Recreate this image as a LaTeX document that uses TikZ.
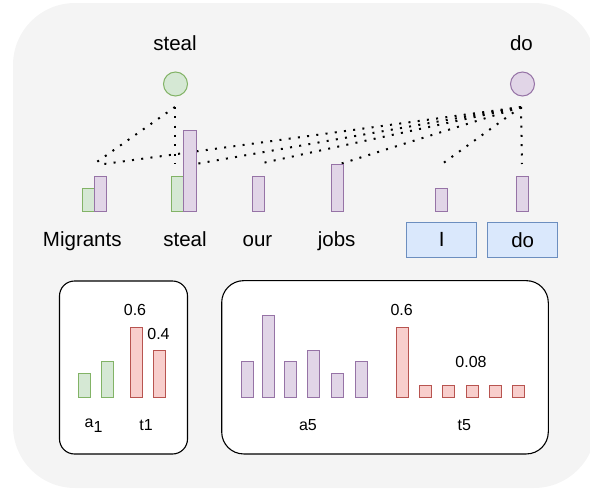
\documentclass[tikz,border=0pt]{standalone}
\usepackage{fontspec}
\setmainfont{Liberation Sans}
\definecolor{bgc}{HTML}{F4F4F4}
\definecolor{gfill}{HTML}{D5E8D4}
\definecolor{gline}{HTML}{82B366}
\definecolor{pfill}{HTML}{E1D5E7}
\definecolor{pline}{HTML}{9673A6}
\definecolor{rfill}{HTML}{F8CECC}
\definecolor{rline}{HTML}{B85450}
\definecolor{bfill}{HTML}{DAE8FC}
\definecolor{bline}{HTML}{6C8EBF}
\begin{document}
\begin{tikzpicture}[x=1pt,y=-1pt,
  lbl/.style={font=\fontsize{20.5}{24}\selectfont, inner sep=0pt, anchor=base},
  small/.style={font=\fontsize{16}{19}\selectfont, inner sep=0pt, anchor=base},
  barbase/.style={line width=1pt, minimum width=12pt, inner sep=0pt, outer sep=0pt, anchor=south},
  gbar/.style={barbase, draw=gline, fill=gfill},
  pbar/.style={barbase, draw=pline, fill=pfill},
  rbar/.style={barbase, draw=rline, fill=rfill},
  wordbox/.style={draw=bline, fill=bfill, line width=1pt, minimum width=70pt, minimum height=35pt, inner sep=0pt, font=\fontsize{20.5}{24}\selectfont},
  headc/.style={circle, line width=1pt, minimum size=24pt, inner sep=0pt},
  panel/.style={draw=black, fill=white, line width=1.1pt, inner sep=0pt},
  dots/.style={line width=2pt, dash pattern=on 2pt off 7.3pt, black}
]
\useasboundingbox (0,0) rectangle (590,490);
\fill[bgc, rounded corners=62pt] (13,3) rectangle (596,488);

% head labels and circles
\node[lbl] (tsteal) at (175,50.5) {steal};
\node[lbl] (tdo) at (521.5,50.5) {do};
\node[headc, draw=gline, fill=gfill] (csteal) at (175.5,84) {};
\node[headc, draw=pline, fill=pfill] (cdo) at (522.5,84) {};

% connector endpoints
\coordinate (ss) at (175,107);
\coordinate (sd) at (521,107);
\coordinate (eMs) at (94,164);
\coordinate (eSs) at (175,164);
\coordinate (eMd) at (104,164);
\coordinate (eSd) at (190,165);
\coordinate (eO) at (258,164);
\coordinate (eJ) at (340,164);
\coordinate (eI) at (442,164);
\coordinate (eD) at (522,164);

\draw[dots] (ss) -- (eMs);
\draw[dots] (ss) -- (eSs);
\draw[dots] (sd) -- (eMd);
\draw[dots] (sd) -- (eSd);
\draw[dots] (sd) -- (eO);
\draw[dots] (sd) -- (eJ);
\draw[dots] (sd) -- (eI);
\draw[dots] (sd) -- (eD);

% word bars
\node[gbar, minimum height=23.5pt] (bMg) at (88.5,211.5) {};
\node[pbar, minimum height=35.5pt] (bMp) at (100.2,211.5) {};
\node[gbar, minimum height=35pt] (bSg) at (177.5,211.5) {};
\node[pbar, minimum height=81pt, minimum width=13pt] (bSp) at (189.8,211.5) {};
\node[pbar, minimum height=35pt] (bO) at (258.7,211.5) {};
\node[pbar, minimum height=47pt] (bJ) at (337.5,211.5) {};
\node[pbar, minimum height=23.5pt] (bI) at (441.7,211.5) {};
\node[pbar, minimum height=35pt] (bD) at (522.7,211.5) {};

% words
\node[lbl] (wM) at (82.3,246.5) {Migrants};
\node[lbl] (wS) at (185,246.5) {steal};
\node[lbl] (wO) at (257.5,246.5) {our};
\node[lbl] (wJ) at (336.7,246.5) {jobs};
\node[wordbox] (wI) at (441.7,239.7) {I};
\node[wordbox] (wD) at (522.7,239.7) {do};

% left panel
\node[panel, rounded corners=15pt, minimum width=128pt, minimum height=173pt] (lpanel) at (123.5,367.5) {};
\node[gbar, minimum height=23.4pt] (la1) at (84,397) {};
\node[gbar, minimum height=35.4pt] (la2) at (107.2,397) {};
\node[rbar, minimum height=69.7pt] (lt1) at (136,397) {};
\node[rbar, minimum height=46.7pt] (lt2) at (159.3,397) {};
\node[small] (l06) at (135,315) {0.6};
\node[small] (l04) at (158.5,339) {0.4};
\node[small] (la) at (93.5,427.5) {a\raisebox{-4.5pt}{1}};
\node[small] (lt) at (146,430) {t1};

% right panel
\node[panel, rounded corners=22pt, minimum width=326.6pt, minimum height=173.3pt] (rpanel) at (385,367.3) {};
\node[pbar, minimum height=35.4pt] (ra1) at (247.5,397) {};
\node[pbar, minimum height=81.7pt] (ra2) at (268,397) {};
\node[pbar, minimum height=35.4pt] (ra3) at (290.2,397) {};
\node[pbar, minimum height=46.7pt] (ra4) at (313.3,397) {};
\node[pbar, minimum height=23.4pt] (ra5) at (337.3,397) {};
\node[pbar, minimum height=35.4pt] (ra6) at (361.7,397) {};
\node[rbar, minimum height=69.7pt] (rt1) at (402.3,397) {};
\node[rbar, minimum height=11.7pt] (rt2) at (425.7,397) {};
\node[rbar, minimum height=11.7pt] (rt3) at (448.7,397) {};
\node[rbar, minimum height=11.7pt] (rt4) at (472,397) {};
\node[rbar, minimum height=11.7pt] (rt5) at (495,397) {};
\node[rbar, minimum height=11.7pt] (rt6) at (518.3,397) {};
\node[small] (r06) at (401.7,315) {0.6};
\node[small] (r008) at (471,367.3) {0.08};
\node[small] (ra) at (308,430.5) {a5};
\node[small] (rt) at (464.3,430.5) {t5};
\end{tikzpicture}
\end{document}
